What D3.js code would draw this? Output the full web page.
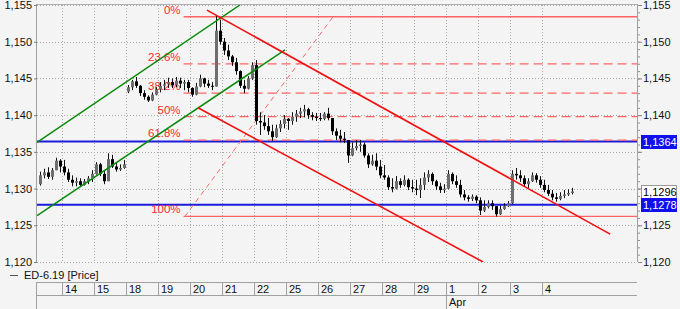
<!DOCTYPE html>
<html>
<head>
<meta charset="utf-8">
<script src="https://cdn.jsdelivr.net/npm/d3@7"></script>
<style>
  body { margin: 0; background: #f4f4f4; }
  svg { display: block; font-family: "Liberation Sans", Arial, sans-serif; }
</style>
</head>
<body>
<svg id="chart"></svg>
<script>
var width = 680;
var height = 309;

// trading days shown on the date axis (13 is only partly visible)
var days = ["13","14","15","18","19","20","21","22","25","26","27","28","29","1","2","3","4"];
var priceTicks = [1.120, 1.125, 1.130, 1.135, 1.140, 1.145, 1.150, 1.155];

// bars per day: [open, high, low, close]
var mar13 = [[1.1306,1.1323,1.1304,1.1318],[1.1318,1.1327,1.1314,1.1322],[1.1322,1.1329,1.1313,1.1316],
  [1.1316,1.1328,1.1312,1.1325],[1.1325,1.1342,1.1325,1.1338],[1.1338,1.1340,1.1322,1.1330]];
var mar14 = [[1.1330,1.1339,1.1318,1.1322],[1.1322,1.1327,1.1309,1.1312],[1.1312,1.1318,1.1303,1.1308],
  [1.1308,1.1315,1.1303,1.1310],[1.1310,1.1314,1.1303,1.1305],[1.1305,1.1313,1.1304,1.1310],
  [1.1310,1.1317,1.1306,1.1314],[1.1314,1.1325,1.1309,1.1320]];
var mar15 = [[1.1320,1.1336,1.1319,1.1333],[1.1333,1.1335,1.1317,1.1320],[1.1320,1.1325,1.1306,1.1310],
  [1.1310,1.1348,1.1310,1.1340],[1.1340,1.1346,1.1328,1.1330],[1.1330,1.1335,1.1323,1.1326],
  [1.1326,1.1333,1.1324,1.1328],[1.1328,1.1339,1.1327,1.1333]];
var mar18 = [[1.1432,1.1441,1.1430,1.1438],[1.1438,1.1448,1.1434,1.1446],[1.1446,1.1452,1.1437,1.1440],
  [1.1440,1.1441,1.1426,1.1430],[1.1430,1.1434,1.1421,1.1425],[1.1425,1.1427,1.1418,1.1420],
  [1.1420,1.1431,1.1419,1.1428],[1.1428,1.1438,1.1427,1.1435]];
var mar19 = [[1.1435,1.1445,1.1431,1.1440],[1.1440,1.1448,1.1434,1.1442],[1.1442,1.1451,1.1437,1.1445],
  [1.1445,1.1450,1.1437,1.1441],[1.1441,1.1452,1.1438,1.1447],[1.1447,1.1451,1.1437,1.1443],
  [1.1443,1.1448,1.1434,1.1445],[1.1445,1.1448,1.1431,1.1437]];
var mar20 = [[1.1437,1.1438,1.1425,1.1428],[1.1428,1.1444,1.1427,1.1439],[1.1439,1.1455,1.1438,1.1450],
  [1.1450,1.1451,1.1438,1.1443],[1.1443,1.1448,1.1437,1.1440],[1.1440,1.1445,1.1434,1.1439],
  [1.1439,1.1535,1.1439,1.1515],[1.1515,1.1530,1.1496,1.1500]];
var mar21 = [[1.1500,1.1505,1.1482,1.1488],[1.1488,1.1496,1.1475,1.1480],[1.1480,1.1482,1.1467,1.1472],
  [1.1472,1.1478,1.1455,1.1460],[1.1460,1.1461,1.1437,1.1440],[1.1440,1.1448,1.1430,1.1436],
  [1.1436,1.1453,1.1435,1.1450],[1.1450,1.1472,1.1448,1.1468]];
var mar22 = [[1.1468,1.1475,1.1387,1.1392],[1.1392,1.1404,1.1373,1.1390],[1.1390,1.1400,1.1380,1.1385],
  [1.1385,1.1396,1.1373,1.1378],[1.1378,1.1387,1.1365,1.1370],[1.1370,1.1387,1.1369,1.1382],
  [1.1382,1.1393,1.1377,1.1388],[1.1388,1.1400,1.1382,1.1395]];
var mar25 = [[1.1395,1.1396,1.1380,1.1392],[1.1392,1.1404,1.1387,1.1398],[1.1398,1.1407,1.1391,1.1402],
  [1.1402,1.1410,1.1396,1.1405],[1.1405,1.1414,1.1397,1.1408],[1.1408,1.1410,1.1395,1.1400],
  [1.1400,1.1404,1.1393,1.1398],[1.1398,1.1403,1.1392,1.1396]];
var mar26 = [[1.1396,1.1403,1.1392,1.1395],[1.1395,1.1404,1.1393,1.1402],[1.1402,1.1410,1.1393,1.1396],
  [1.1396,1.1396,1.1373,1.1378],[1.1378,1.1382,1.1366,1.1372],[1.1372,1.1380,1.1363,1.1368],
  [1.1368,1.1377,1.1362,1.1366],[1.1366,1.1366,1.1335,1.1345]];
var mar27 = [[1.1345,1.1363,1.1344,1.1355],[1.1355,1.1366,1.1352,1.1358],[1.1358,1.1366,1.1350,1.1360],
  [1.1360,1.1363,1.1342,1.1345],[1.1345,1.1348,1.1328,1.1333],[1.1333,1.1346,1.1331,1.1338],
  [1.1338,1.1348,1.1325,1.1330],[1.1330,1.1339,1.1314,1.1318]];
var mar28 = [[1.1318,1.1332,1.1312,1.1315],[1.1315,1.1318,1.1298,1.1302],[1.1302,1.1314,1.1295,1.1300],
  [1.1300,1.1317,1.1299,1.1310],[1.1310,1.1314,1.1301,1.1305],[1.1305,1.1318,1.1303,1.1312],
  [1.1312,1.1314,1.1298,1.1302],[1.1302,1.1312,1.1295,1.1300]];
var mar29 = [[1.1300,1.1312,1.1291,1.1298],[1.1298,1.1314,1.1287,1.1305],[1.1305,1.1322,1.1298,1.1315],
  [1.1315,1.1325,1.1309,1.1320],[1.1320,1.1322,1.1305,1.1310],[1.1310,1.1312,1.1298,1.1303],
  [1.1303,1.1308,1.1294,1.1298],[1.1298,1.1306,1.1294,1.1300]];
var apr1 = [[1.1300,1.1325,1.1299,1.1320],[1.1320,1.1322,1.1306,1.1310],[1.1310,1.1318,1.1301,1.1305],
  [1.1305,1.1312,1.1288,1.1292],[1.1292,1.1298,1.1284,1.1288],[1.1288,1.1291,1.1282,1.1286],
  [1.1286,1.1292,1.1283,1.1289],[1.1289,1.1291,1.1280,1.1284]];
var apr2 = [[1.1284,1.1288,1.1264,1.1270],[1.1270,1.1284,1.1268,1.1275],[1.1275,1.1284,1.1273,1.1280],
  [1.1280,1.1284,1.1271,1.1276],[1.1276,1.1276,1.1262,1.1265],[1.1265,1.1277,1.1264,1.1272],
  [1.1272,1.1280,1.1271,1.1276],[1.1276,1.1283,1.1275,1.1280]];
var apr3 = [[1.1280,1.1325,1.1279,1.1320],[1.1320,1.1328,1.1312,1.1318],[1.1318,1.1325,1.1309,1.1314],
  [1.1314,1.1318,1.1303,1.1306],[1.1306,1.1314,1.1301,1.1310],[1.1310,1.1322,1.1309,1.1318],
  [1.1318,1.1321,1.1308,1.1312],[1.1312,1.1317,1.1301,1.1305]];
var apr4 = [[1.1305,1.1312,1.1295,1.1298],[1.1298,1.1305,1.1290,1.1293],[1.1293,1.1298,1.1284,1.1288],
  [1.1288,1.1294,1.1282,1.1286],[1.1286,1.1295,1.1284,1.1290],[1.1290,1.1298,1.1287,1.1292],
  [1.1292,1.1299,1.1290,1.1294],[1.1294,1.1301,1.1292,1.1296]];
var dayBars = [mar13, mar14, mar15, mar18, mar19, mar20, mar21, mar22, mar25, mar26,
  mar27, mar28, mar29, apr1, apr2, apr3, apr4];

// horizontal levels and the last price
var levelPrices = [1.1364, 1.1278];
var lastPrice = 1.1296;

// fibonacci retracement, anchors as [day position, price]
var fibLow = [4.84, 1.1262];
var fibHigh = [9.47, 1.1534];
var fibRatios = [0, 0.236, 0.382, 0.5, 0.618, 1];
var fibStart = 4.8;

// trend channels, [day position, price] pairs
var greenLines = [[[0.22, 1.1363], [6.56, 1.1550]], [[0.22, 1.1263], [7.97, 1.1489]]];
var redLines = [[[5.53, 1.1543], [18.13, 1.1238]], [[5.25, 1.1410], [14.16, 1.1200]]];

var plotLeft = 37, plotRight = 637, plotTop = 5, plotBottom = 262;
var fmt = function(d) { return d3.format(".3f")(d).replace(".", ","); };
var fmt4 = function(d) { return d3.format(".4f")(d).replace(".", ","); };

var svg = d3.select('#chart').attr('width', width).attr('height', height);

var x = d3.scaleLinear().domain([0, 19]).range([30, 638]);
var y = d3.scaleLinear().domain([1.120, 1.155]).range([plotBottom, plotTop]);

svg.append('rect').attr('width', width).attr('height', height).attr('fill', '#f4f4f4');

svg.append('clipPath').attr('id', 'plotClip')
  .append('rect').attr('x', plotLeft).attr('y', plotTop)
  .attr('width', plotRight - plotLeft).attr('height', plotBottom - plotTop);

// grid
var grid = svg.append('g');
grid.selectAll('.hgrid')
  .data(priceTicks)
  .enter()
  .append('line')
  .attr('x1', plotLeft).attr('x2', plotRight)
  .attr('y1', function(d) { return Math.round(y(d)) + 0.5; })
  .attr('y2', function(d) { return Math.round(y(d)) + 0.5; })
  .attr('stroke', '#a8a8a8')
  .attr('stroke-dasharray', '1,2');
grid.selectAll('.vgrid')
  .data(d3.range(1, days.length))
  .enter()
  .append('line')
  .attr('x1', function(d) { return x(d) + 0.5; })
  .attr('x2', function(d) { return x(d) + 0.5; })
  .attr('y1', plotTop).attr('y2', plotBottom)
  .attr('stroke', '#a8a8a8')
  .attr('stroke-dasharray', '1,2');

// borders
svg.append('line').attr('x1', plotLeft).attr('x2', plotRight).attr('y1', plotTop - 0.5).attr('y2', plotTop - 0.5).attr('stroke', '#b0b0b0');
svg.append('line').attr('x1', plotLeft - 0.5).attr('x2', plotLeft - 0.5).attr('y1', plotTop - 1).attr('y2', plotBottom).attr('stroke', '#a0a0a0');
svg.append('line').attr('x1', plotRight + 0.5).attr('x2', plotRight + 0.5).attr('y1', plotTop - 1).attr('y2', plotBottom).attr('stroke', '#a0a0a0');

// axes
var leftAxis = svg.append('g')
  .attr('transform', 'translate(' + plotLeft + ',0)')
  .call(d3.axisLeft(y).tickValues(priceTicks).tickFormat(fmt).tickSize(3).tickPadding(2));
var rightAxis = svg.append('g')
  .attr('transform', 'translate(' + (plotRight + 1) + ',0)')
  .call(d3.axisRight(y).tickValues(priceTicks).tickFormat(fmt).tickSize(4).tickPadding(1));
svg.append('g')
  .attr('transform', 'translate(' + (plotRight + 1) + ',0)')
  .call(d3.axisRight(y).ticks(35).tickFormat('').tickSize(2))
  .call(function(g) { g.select('.domain').remove(); g.selectAll('line').attr('stroke', '#909090'); });
[leftAxis, rightAxis].forEach(function(a) {
  a.select('.domain').remove();
  a.selectAll('line').attr('stroke', '#808080');
  a.selectAll('text').attr('font-size', 11).attr('fill', '#111')
    .attr('font-family', '"Liberation Sans", Arial, sans-serif');
});
// hide right labels sitting under the price boxes
rightAxis.selectAll('.tick').filter(function(d) {
  return levelPrices.concat([lastPrice]).some(function(p) { return Math.abs(y(p) - y(d)) < 11; });
}).select('text').remove();

var plot = svg.append('g').attr('clip-path', 'url(#plotClip)');

// level lines
plot.selectAll('.level')
  .data(levelPrices)
  .enter()
  .append('line')
  .attr('x1', plotLeft).attr('x2', plotRight)
  .attr('y1', function(d) { return y(d); })
  .attr('y2', function(d) { return y(d); })
  .attr('stroke', '#1c1cdc')
  .attr('stroke-width', 2);

// fibonacci
var fibRange = fibHigh[1] - fibLow[1];
plot.append('line')
  .attr('x1', x(fibLow[0])).attr('y1', y(fibLow[1]))
  .attr('x2', x(fibHigh[0])).attr('y2', y(fibHigh[1]))
  .attr('stroke', '#ff6a6a')
  .attr('stroke-dasharray', '5,4');
plot.selectAll('.fib')
  .data(fibRatios)
  .enter()
  .append('line')
  .attr('x1', x(fibStart)).attr('x2', plotRight)
  .attr('y1', function(d) { return y(fibHigh[1] - d * fibRange); })
  .attr('y2', function(d) { return y(fibHigh[1] - d * fibRange); })
  .attr('stroke', '#ff6464')
  .attr('stroke-width', 1.3)
  .attr('stroke-dasharray', function(d) { return (d === 0 || d === 1) ? null : '9,5'; });
plot.selectAll('.fibLabel')
  .data(fibRatios)
  .enter()
  .append('text')
  .attr('x', x(fibStart) - 3)
  .attr('y', function(d) { return y(fibHigh[1] - d * fibRange) - 3; })
  .attr('text-anchor', 'end')
  .attr('font-size', 11.5)
  .attr('fill', '#ff2a2a')
  .text(function(d) { return (d * 100).toFixed(d === 0.236 || d === 0.382 || d === 0.618 ? 1 : 0) + '%'; });

// candles
var candles = [];
dayBars.forEach(function(bars, d) {
  var off = 8 - bars.length;
  bars.forEach(function(b, j) {
    candles.push({ pos: d + (j + off + 0.5) / 8, o: b[0], h: b[1], l: b[2], c: b[3] });
  });
});
var cg = plot.selectAll('.candle')
  .data(candles)
  .enter()
  .append('g');
cg.append('line')
  .attr('x1', function(d) { return Math.round(x(d.pos)) + 0.5; })
  .attr('x2', function(d) { return Math.round(x(d.pos)) + 0.5; })
  .attr('y1', function(d) { return y(d.h); })
  .attr('y2', function(d) { return y(d.l); })
  .attr('stroke', '#111');
cg.append('rect')
  .attr('x', function(d) { return Math.round(x(d.pos)) - 1; })
  .attr('width', 3)
  .attr('y', function(d) { return y(Math.max(d.o, d.c)); })
  .attr('height', function(d) { return Math.max(1, Math.abs(y(d.o) - y(d.c))); })
  .attr('fill', function(d) { return d.c >= d.o ? '#6e6e6e' : '#000'; });

// trend channels
var line = d3.line().x(function(d) { return x(d[0]); }).y(function(d) { return y(d[1]); });
plot.selectAll('.green')
  .data(greenLines)
  .enter()
  .append('path')
  .attr('d', line)
  .attr('fill', 'none')
  .attr('stroke', '#0a8a0a')
  .attr('stroke-width', 1.5);
plot.selectAll('.red')
  .data(redLines)
  .enter()
  .append('path')
  .attr('d', line)
  .attr('fill', 'none')
  .attr('stroke', '#f01010')
  .attr('stroke-width', 1.6);

// price boxes on the right axis
var boxes = [
  { p: levelPrices[0], fill: '#1010ee', text: '#fff', stroke: '#1010ee' },
  { p: lastPrice, fill: '#fff', text: '#000', stroke: '#999' },
  { p: levelPrices[1], fill: '#1010ee', text: '#fff', stroke: '#1010ee' }
];
var bg = svg.selectAll('.pbox').data(boxes).enter().append('g');
bg.append('rect')
  .attr('x', 641.5).attr('width', 35).attr('height', 13)
  .attr('y', function(d) { return Math.round(y(d.p)) - 6.5; })
  .attr('fill', function(d) { return d.fill; })
  .attr('stroke', function(d) { return d.stroke; });
bg.append('text')
  .attr('x', 643).attr('y', function(d) { return y(d.p) + 4; })
  .attr('font-size', 11)
  .attr('fill', function(d) { return d.text; })
  .text(function(d) { return fmt4(d.p); });

// legend
svg.append('line').attr('x1', 10).attr('x2', 18).attr('y1', 275.5).attr('y2', 275.5).attr('stroke', '#555');
svg.append('text').attr('x', 24).attr('y', 279).attr('font-size', 11).attr('fill', '#111').text('ED-6.19 [Price]');

// date axis
var dAxis = svg.append('g');
dAxis.append('line').attr('x1', plotLeft).attr('x2', plotRight).attr('y1', 282.5).attr('y2', 282.5).attr('stroke', '#a0a0a0');
dAxis.append('line').attr('x1', plotLeft).attr('x2', plotRight).attr('y1', 295.5).attr('y2', 295.5).attr('stroke', '#a0a0a0');
dAxis.append('line').attr('x1', plotLeft - 0.5).attr('x2', plotLeft - 0.5).attr('y1', 282).attr('y2', height).attr('stroke', '#a0a0a0');
dAxis.selectAll('.dsep')
  .data(d3.range(1, days.length))
  .enter()
  .append('line')
  .attr('x1', function(d) { return x(d) + 0.5; })
  .attr('x2', function(d) { return x(d) + 0.5; })
  .attr('y1', 282)
  .attr('y2', function(d) { return days[d] === '1' ? height : 295; })
  .attr('stroke', '#a0a0a0');
dAxis.selectAll('.dlabel')
  .data(d3.range(1, days.length))
  .enter()
  .append('text')
  .attr('x', function(d) { return x(d) + 3; })
  .attr('y', 293)
  .attr('font-size', 11)
  .attr('fill', '#111')
  .text(function(d) { return days[d]; });
dAxis.append('text').attr('x', x(days.indexOf('1')) + 3).attr('y', 306)
  .attr('font-size', 11).attr('fill', '#111').text('Apr');
</script>
</body>
</html>
